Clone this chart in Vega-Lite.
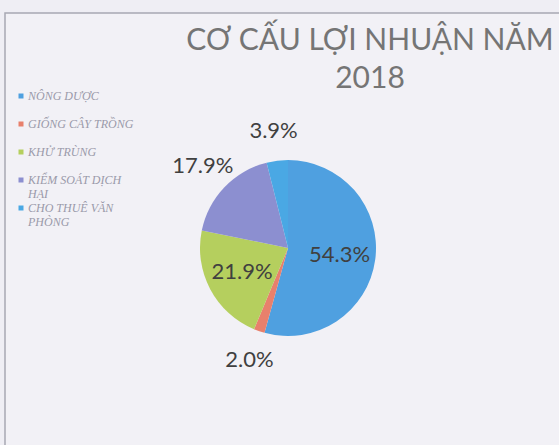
{
  "$schema": "https://vega.github.io/schema/vega-lite/v6.json",
  "autosize": {"type": "none"},
  "width": 566,
  "height": 470,
  "padding": {"left": 5, "top": 13, "right": -12, "bottom": -38},
  "background": "#efeef4",
  "view": {"stroke": "#a8a8b2", "strokeWidth": 1.5, "fill": "#f2f1f6"},
  "title": {
    "text": ["CƠ CẤU LỢI NHUẬN NĂM", "2018"],
    "font": "Lato",
    "fontSize": 30,
    "fontWeight": "normal",
    "color": "#757575",
    "lineHeight": 38,
    "anchor": "middle",
    "frame": "group",
    "baseline": "top",
    "offset": -14,
    "dx": 82,
    "dy": 67
  },
  "data": {
    "values": [
      {"cat": "NÔNG DƯỢC", "pct": 0.543, "ord": 1},
      {"cat": "GIỐNG CÂY TRỒNG", "pct": 0.02, "ord": 2},
      {"cat": "KHỬ TRÙNG", "pct": 0.219, "ord": 3},
      {"cat": "KIỂM SOÁT DỊCH HẠI", "pct": 0.179, "ord": 4},
      {"cat": "CHO THUÊ VĂN PHÒNG", "pct": 0.039, "ord": 5}
    ]
  },
  "encoding": {
    "theta": {"field": "pct", "type": "quantitative", "stack": true},
    "order": {"field": "ord", "type": "quantitative"}
  },
  "layer": [
    {
      "mark": {"type": "arc", "outerRadius": 88},
      "encoding": {
        "color": {
          "field": "cat",
          "type": "nominal",
          "sort": ["NÔNG DƯỢC", "GIỐNG CÂY TRỒNG", "KHỬ TRÙNG", "KIỂM SOÁT DỊCH HẠI", "CHO THUÊ VĂN PHÒNG"],
          "scale": {
            "domain": ["NÔNG DƯỢC", "GIỐNG CÂY TRỒNG", "KHỬ TRÙNG", "KIỂM SOÁT DỊCH HẠI", "CHO THUÊ VĂN PHÒNG"],
            "range": ["#4fa0e0", "#e8806c", "#b5cf5e", "#8c8fd0", "#4aa8e4"]
          },
          "legend": {
            "title": null,
            "orient": "none",
            "legendX": 10,
            "legendY": 77,
            "symbolType": "square",
            "symbolSize": 25,
            "symbolStrokeWidth": 0,
            "labelFont": "Liberation Serif",
            "labelFontStyle": "italic",
            "labelFontSize": 12,
            "labelColor": "#9a9aaa",
            "labelOffset": 1,
            "gridAlign": "all",
            "rowPadding": 2,
            "labelExpr": "datum.label == 'KIỂM SOÁT DỊCH HẠI' ? ['KIỂM SOÁT DỊCH', 'HẠI'] : datum.label == 'CHO THUÊ VĂN PHÒNG' ? ['CHO THUÊ VĂN', 'PHÒNG'] : datum.label"
          }
        }
      }
    },
    {
      "mark": {"type": "text", "radius": 52, "font": "Lato", "fontSize": 22, "color": "#404040"},
      "encoding": {
        "text": {
          "condition": {"test": "datum.pct >= 0.2", "field": "pct", "type": "quantitative", "format": ".1%"},
          "value": ""
        }
      }
    },
    {
      "mark": {"type": "text", "radius": 118, "font": "Lato", "fontSize": 22, "color": "#404040"},
      "encoding": {
        "text": {
          "condition": {"test": "datum.pct < 0.2", "field": "pct", "type": "quantitative", "format": ".1%"},
          "value": ""
        }
      }
    }
  ]
}
